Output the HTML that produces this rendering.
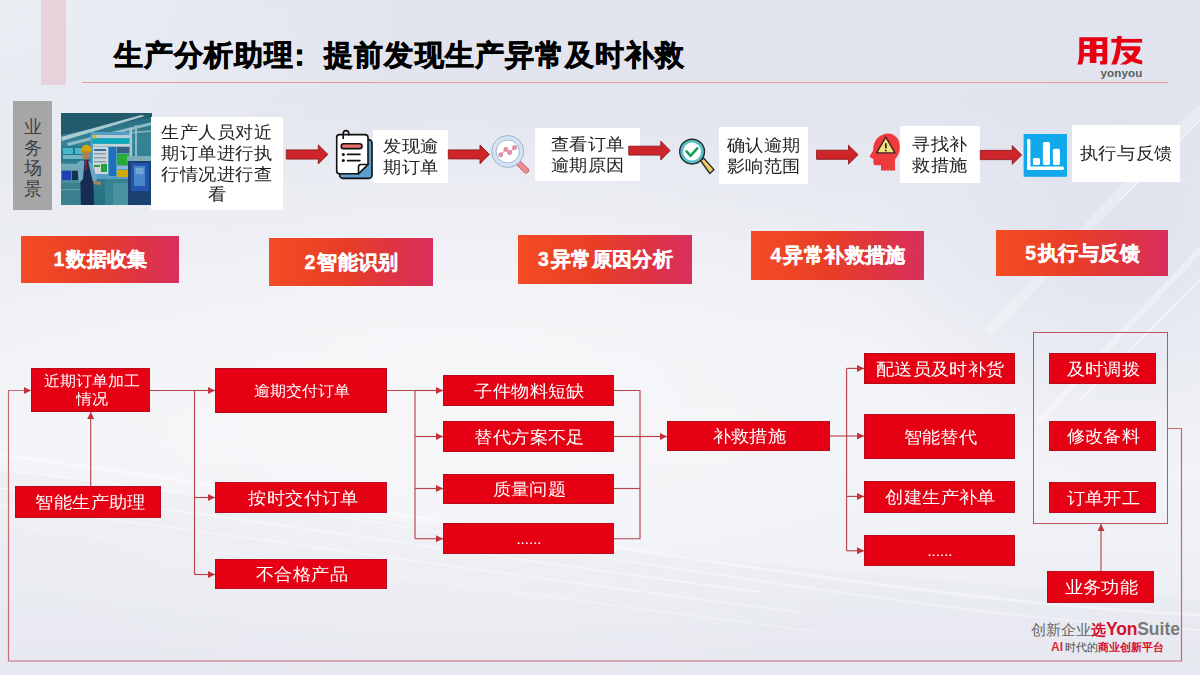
<!DOCTYPE html>
<html><head><meta charset="utf-8">
<style>
*{margin:0;padding:0;box-sizing:border-box}
html,body{width:1200px;height:675px;overflow:hidden}
body{font-family:"Liberation Sans",sans-serif;position:relative;background:#e6e8f0}
.a{position:absolute}
#bg{position:absolute;left:0;top:0;width:1200px;height:675px}
.title{position:absolute;left:114px;top:35px;letter-spacing:1.05px;font-size:28.5px;font-weight:bold;color:#000;white-space:nowrap;line-height:40px;-webkit-text-stroke:0.7px #000}
.wb{position:absolute;background:#fff;color:#222;font-size:17.3px;line-height:20.8px;text-align:center;display:flex;align-items:center;justify-content:center;letter-spacing:0.3px;padding-left:0.3px}
.step{position:absolute;background:linear-gradient(90deg,#f44c24 0%,#e83e27 45%,#dd3348 80%,#d82f5e 100%);color:#fff;font-weight:bold;font-size:19.5px;-webkit-text-stroke:0.35px #fff;letter-spacing:0.4px;padding-left:1.4px;display:flex;align-items:center;justify-content:center;white-space:nowrap}
.rb{position:absolute;background:#e60014;border:1px solid #b80a1c;color:#fff;font-size:17.3px;display:flex;align-items:center;justify-content:center;text-align:center;white-space:nowrap;line-height:18px;letter-spacing:0.2px;padding-left:2.2px}
.t{display:inline-block;transform:scaleX(1.07)}
.sm{font-size:15px;letter-spacing:0px;padding-left:2px}
</style></head><body>
<svg id="bg" width="1200" height="675" viewBox="0 0 1200 675">
<defs>
<linearGradient id="bgv" x1="0" y1="0" x2="0" y2="1">
<stop offset="0" stop-color="#e1e4ee"/>
<stop offset="0.15" stop-color="#e2e5ee"/>
<stop offset="0.33" stop-color="#e9ebf2"/>
<stop offset="0.5" stop-color="#f1f2f6"/>
<stop offset="0.66" stop-color="#f3f4f7"/>
<stop offset="0.85" stop-color="#eef0f5"/>
<stop offset="1" stop-color="#e8eaf1"/>
</linearGradient>
<radialGradient id="glow" cx="0.38" cy="0.6" r="0.45">
<stop offset="0" stop-color="#f8f8fa" stop-opacity="0.8"/>
<stop offset="1" stop-color="#f8f8fa" stop-opacity="0"/>
</radialGradient>
<radialGradient id="tl" cx="0" cy="0" r="1" gradientUnits="userSpaceOnUse" gradientTransform="translate(0,0) scale(420,300)">
<stop offset="0" stop-color="#ffffff" stop-opacity="0.35"/>
<stop offset="1" stop-color="#ffffff" stop-opacity="0"/>
</radialGradient>
<radialGradient id="rb" cx="0" cy="0" r="1" gradientUnits="userSpaceOnUse" gradientTransform="translate(1120,260) scale(260,220)">
<stop offset="0" stop-color="#d6dbeb" stop-opacity="0.55"/>
<stop offset="1" stop-color="#d6dbeb" stop-opacity="0"/>
</radialGradient>
</defs>
<rect width="1200" height="675" fill="url(#bgv)"/>
<rect width="1200" height="675" fill="url(#glow)"/>
<rect width="1200" height="675" fill="url(#tl)"/>
<rect width="1200" height="675" fill="url(#rb)"/>
<path d="M0,470 C250,500 600,560 1200,600 V675 H0 z" fill="#e0e3ed" opacity="0.2"/>
<g fill="none" stroke="#ffffff" stroke-linecap="round">
<path d="M0,455 C200,480 420,520 700,560 S1100,610 1200,615" stroke-width="3" opacity="0.4"/>
<path d="M0,470 C220,495 450,535 720,575 S1100,625 1200,630" stroke-width="2" opacity="0.35"/>
<path d="M0,488 C230,515 470,555 760,592" stroke-width="1.5" opacity="0.45"/>
<path d="M0,505 C240,535 500,575 800,612" stroke-width="1.5" opacity="0.4"/>
<path d="M0,525 C260,555 520,595 820,632" stroke-width="1.2" opacity="0.35"/>
<path d="M1040,420 L1200,250" stroke-width="6" opacity="0.35"/>
<path d="M1080,400 L1200,280" stroke-width="3" opacity="0.4"/>
<path d="M990,330 L1200,110" stroke-width="10" opacity="0.25"/>
<path d="M1120,200 L1200,120" stroke-width="2" opacity="0.5"/>
</g>
</svg>

<!-- header -->
<div class="a" style="left:41px;top:0;width:25px;height:85px;background:#e8ced8;opacity:0.9"></div>
<div class="title">生产分析助理<span style="position:relative;left:-9px">：</span>提前发现生产异常及时补救</div>
<div class="a" style="left:82px;top:82px;width:1086px;height:1px;background:#e89a9a"></div>
<svg class="a" style="left:0;top:0" width="1200" height="90" viewBox="0 0 1200 90">
<g fill="#e60012">
<path d="M1079.3,37.3 H1107.3 V62.4 Q1107.3,64.6 1105,64.6 H1100.1 V61 H1102.4 V56.4 H1096.4 V63.1 H1089.8 V56.4 H1083.9 Q1083.7,61.5 1082,64.6 H1077.3 Q1079.3,60 1079.3,52 z M1083.9,41.3 V45 H1089.8 V41.3 z M1096.4,41.3 V45 H1102.4 V41.3 z M1083.9,49 V53.1 H1089.8 V49 z M1096.4,49 V53.1 H1102.4 V49 z" fill-rule="evenodd"/>
<rect x="1111.3" y="38.9" width="30.8" height="3.7"/>
<path d="M1117.2,36 H1121.8 Q1121,55 1116.5,64.6 H1111.2 Q1116.5,54 1117.2,36 z"/>
<path d="M1120.9,46.3 H1139.3 Q1141,46.6 1140.3,50 Q1136.5,59.5 1126.2,64.6 H1119.8 Q1131,58.6 1134.2,50.6 H1120.9 z"/>
<path d="M1122.6,53.8 L1126.6,51.4 Q1132.5,58.8 1142.2,60.4 V64.4 Q1129.5,63.2 1122.6,53.8 z"/>
</g>
</svg>
<div class="a" style="left:1100.5px;top:66px;font-size:11.6px;font-weight:bold;color:#5c5c5c;line-height:14px;letter-spacing:0.1px">yonyou</div>

<!-- top row -->
<div class="a" style="left:13px;top:101px;width:39px;height:109px;background:#a6a6a6;color:#404040;font-size:18px;line-height:20.6px;text-align:center;padding-top:16px">业<br>务<br>场<br>景</div>
<svg class="a" style="left:61px;top:113px;filter:brightness(0.86) saturate(1.15)" width="91" height="92" viewBox="0 0 91 92">
<defs>
<linearGradient id="pg" x1="0" y1="0" x2="0" y2="1">
<stop offset="0" stop-color="#34788a"/><stop offset="0.3" stop-color="#4898aa"/><stop offset="0.65" stop-color="#3f8e9e"/><stop offset="1" stop-color="#347f8e"/>
</linearGradient>
</defs>
<rect width="91" height="92" fill="url(#pg)"/>
<path d="M0,0 H91 V4 L0,22 z" fill="#2e6878"/>
<path d="M0,24 L80,2 L84,3 L1,28 z" fill="#d8f6fc" opacity="0.9"/>
<path d="M6,30 L91,9 L91,12 L7,33 z" fill="#c4eef6" opacity="0.8"/>
<path d="M30,22 L91,17 L91,19 L31,24 z" fill="#c8eef6" opacity="0.6"/>
<rect x="1" y="33" width="26" height="15" fill="#38899c"/>
<rect x="2" y="35" width="10" height="6" fill="#5fd0e6"/>
<rect x="14" y="35" width="10" height="6" fill="#66d2e4"/>
<rect x="2" y="42" width="22" height="4" fill="#8fd0de"/>
<rect x="29.5" y="19" width="42" height="47" fill="#6bb6dc"/>
<rect x="31.5" y="22" width="38" height="3" fill="#d6eef8"/>
<rect x="31.5" y="25.5" width="38" height="5" fill="#1ebfd0"/>
<rect x="32" y="31" width="37" height="2.5" fill="#e8f4fa"/>
<rect x="32" y="34" width="15" height="27" fill="#f4f8fb"/>
<rect x="33" y="36" width="12" height="2" fill="#4a80b8"/>
<rect x="33" y="40" width="12" height="1.5" fill="#9fbbd0"/>
<rect x="33" y="44" width="12" height="1.5" fill="#9fbbd0"/>
<rect x="33" y="48" width="12" height="1.5" fill="#9fbbd0"/>
<rect x="40" y="51" width="6" height="8" fill="#3bb450"/>
<rect x="33" y="52" width="6" height="2" fill="#3bb450"/>
<rect x="48" y="34" width="7" height="29" fill="#2f7fcc"/>
<rect x="56" y="34" width="13" height="6" fill="#466c8c"/>
<rect x="56" y="41" width="13" height="11" fill="#3ec24c"/>
<rect x="56" y="53" width="13" height="3" fill="#a6d6ee"/>
<rect x="56" y="57" width="13" height="7" fill="#f4c41e"/>
<rect x="32.5" y="21.5" width="3" height="4" fill="#f2d040"/>
<rect x="68.5" y="15" width="2.5" height="32" fill="#c6e6ef"/>
<rect x="74" y="12" width="2" height="32" fill="#a8d8e4"/>
<rect x="0" y="50" width="21" height="42" fill="#5aa2b0"/>
<rect x="0" y="51" width="21" height="6" fill="#88c4d0"/>
<rect x="1" y="58" width="9" height="9" fill="#2a4cc0"/>
<rect x="11" y="58" width="6" height="9" fill="#203a50"/>
<rect x="0" y="70" width="21" height="22" fill="#4c93a2"/>
<rect x="0" y="76" width="21" height="1.2" fill="#78b6c2"/>
<rect x="44" y="66" width="26" height="26" fill="#4a96a6"/>
<rect x="52" y="70" width="18" height="22" fill="#5ea9b6"/>
<rect x="67" y="43" width="24" height="49" fill="#244a7c"/>
<rect x="66" y="43" width="25" height="5" fill="#94c6d4"/>
<rect x="70" y="50" width="18" height="28" fill="#2f62be"/>
<rect x="73" y="53" width="11" height="20" fill="#5c9ce0"/>
<rect x="74.5" y="55" width="8" height="6" fill="#8cc0ee"/>
<path d="M19,58 Q19,47 25,46 Q31,47 32,57 L33,92 H20 z" fill="#1d3458"/>
<path d="M16,50 Q21,46 23.5,48 L22,66 L18,70 z" fill="#86c0e0"/>
<path d="M27,48 Q31,49 33,55 L36,67 L32,69 z" fill="#86c0e0"/>
<rect x="24.3" y="47" width="1.4" height="10" fill="#b03040"/>
<rect x="21.5" y="37" width="7.5" height="9.5" rx="3" fill="#c4956e"/>
<path d="M20.2,38.3 Q20.5,31.8 25.3,31.8 Q30.2,31.8 30.5,38.3 z" fill="#f2c01e"/>
<rect x="19.6" y="37.8" width="11.5" height="1.5" fill="#dca812"/>
<path d="M33,68 L40,69 L39.5,72 L32.5,71 z" fill="#c4956e"/>
</svg>
<div class="wb" style="left:151px;top:117px;width:132px;height:93px"><span class="t">生产人员对近<br>期订单进行执<br>行情况进行查<br>看</span></div>
<div class="wb" style="left:373px;top:130px;width:75px;height:53px"><span class="t">发现逾<br>期订单</span></div>
<div class="wb" style="left:535px;top:128px;width:105px;height:53px"><span class="t">查看订单<br>逾期原因</span></div>
<div class="wb" style="left:719px;top:127px;width:89px;height:57px"><span class="t">确认逾期<br>影响范围</span></div>
<div class="wb" style="left:900px;top:126px;width:80px;height:57px"><span class="t">寻找补<br>救措施</span></div>
<div class="wb" style="left:1072px;top:125px;width:108px;height:57px"><span class="t">执行与反馈</span></div>

<!-- steps -->
<div class="step" style="left:21px;top:236px;width:158px;height:47px"><span style="margin-right:1.5px">1</span>数据收集</div>
<div class="step" style="left:269px;top:238px;width:164px;height:48px"><span style="margin-right:1.5px">2</span>智能识别</div>
<div class="step" style="left:518px;top:235px;width:174px;height:49px"><span style="margin-right:1.5px">3</span>异常原因分析</div>
<div class="step" style="left:751px;top:231px;width:173px;height:49px"><span style="margin-right:1.5px">4</span>异常补救措施</div>
<div class="step" style="left:996px;top:230px;width:172px;height:46px"><span style="margin-right:1.5px">5</span>执行与反馈</div>

<!-- flowchart boxes -->
<div class="rb sm" style="left:31px;top:368px;width:119px;height:44px"><span class="t">近期订单加工<br>情况</span></div>
<div class="rb" style="left:15px;top:486px;width:146px;height:32px;padding-left:5px"><span class="t">智能生产助理</span></div>
<div class="rb sm" style="left:215px;top:368px;width:172px;height:45px"><span class="t">逾期交付订单</span></div>
<div class="rb" style="left:215px;top:482px;width:172px;height:31px;padding-left:6px"><span class="t">按时交付订单</span></div>
<div class="rb" style="left:215px;top:559px;width:172px;height:30px"><span class="t">不合格产品</span></div>
<div class="rb" style="left:443px;top:375px;width:171px;height:31px"><span class="t">子件物料短缺</span></div>
<div class="rb" style="left:443px;top:421px;width:171px;height:31px"><span class="t">替代方案不足</span></div>
<div class="rb" style="left:443px;top:474px;width:171px;height:30px"><span class="t">质量问题</span></div>
<div class="rb" style="left:443px;top:523px;width:171px;height:31px;font-size:15.5px;letter-spacing:-0.4px;padding-left:0"><span class="t">......</span></div>
<div class="rb" style="left:667px;top:421px;width:163px;height:30px"><span class="t">补救措施</span></div>
<div class="rb" style="left:864px;top:353px;width:151px;height:31px"><span class="t">配送员及时补货</span></div>
<div class="rb" style="left:864px;top:414px;width:151px;height:45px"><span class="t">智能替代</span></div>
<div class="rb" style="left:864px;top:481px;width:151px;height:32px"><span class="t">创建生产补单</span></div>
<div class="rb" style="left:864px;top:535px;width:151px;height:31px;font-size:15.5px;letter-spacing:-0.4px;padding-left:0"><span class="t">......</span></div>
<div class="a" style="left:1033px;top:332px;width:135px;height:192px;border:1.4px solid #bd5660"></div>
<div class="rb" style="left:1049px;top:353px;width:107px;height:31px"><span class="t">及时调拨</span></div>
<div class="rb" style="left:1049px;top:421px;width:107px;height:30px"><span class="t">修改备料</span></div>
<div class="rb" style="left:1049px;top:482px;width:107px;height:31px"><span class="t">订单开工</span></div>
<div class="rb" style="left:1047px;top:571px;width:107px;height:32px"><span class="t">业务功能</span></div>

<!-- connectors -->
<svg class="a" style="left:0;top:0" width="1200" height="675" viewBox="0 0 1200 675">
<defs>
<marker id="ah" viewBox="0 0 10 10" refX="10" refY="5" markerWidth="7" markerHeight="7" markerUnits="userSpaceOnUse" orient="auto">
<path d="M0,0 L10,5 L0,10 z" fill="#c2303a"/>
</marker>
</defs>
<path d="M1168,428.5 H1181.5 V661 H8.5 V390.5 H31" fill="none" stroke="#c36a72" stroke-width="1.2" marker-end="url(#ah)"/>
<g fill="none" stroke="#b6454b" stroke-width="1.15">
<path d="M90.7,486 V412" marker-end="url(#ah)"/>
<path d="M150,390.5 H194.5 V574.5"/>
<path d="M194.5,390.5 H215" marker-end="url(#ah)"/>
<path d="M194.5,497.5 H215" marker-end="url(#ah)"/>
<path d="M194.5,574.5 H215" marker-end="url(#ah)"/>
<path d="M387,390.5 H415 V538.7"/>
<path d="M415,390.5 H443" marker-end="url(#ah)"/>
<path d="M415,436.5 H443" marker-end="url(#ah)"/>
<path d="M415,488.5 H443" marker-end="url(#ah)"/>
<path d="M415,538.7 H443" marker-end="url(#ah)"/>
<path d="M614,390.5 H640 V538.7 H614"/>
<path d="M614,436.5 H640"/>
<path d="M614,488.5 H640"/>
<path d="M640,436.5 H667" marker-end="url(#ah)"/>
<path d="M830,436 H846.6"/>
<path d="M846.6,368.4 V550.8"/>
<path d="M846.6,368.4 H864" marker-end="url(#ah)"/>
<path d="M846.6,436 H864" marker-end="url(#ah)"/>
<path d="M846.6,496.4 H864" marker-end="url(#ah)"/>
<path d="M846.6,550.8 H864" marker-end="url(#ah)"/>
<path d="M1101,571 V524" marker-end="url(#ah)"/>
</g>
</svg>


<!-- icons -->
<svg class="a" style="left:0;top:0" width="1200" height="200" viewBox="0 0 1200 200">
<!-- doc icon -->
<g stroke="#111" stroke-width="1.6" stroke-linejoin="round">
<rect x="339.6" y="139.6" width="32.4" height="38.8" rx="3.5" fill="#5b9dcc"/>
<path d="M339.5,134.6 H365 Q368,134.6 368,137.5 V164.5 L358.5,173.7 H339.5 Q336.7,173.7 336.7,171 V137.5 Q336.7,134.6 339.5,134.6 z" fill="#fff"/>
<path d="M368,164.5 H361 Q358.5,164.5 358.5,167 V173.7 z" fill="#fff"/>
<path d="M343.2,139 V133.6 Q343.2,130.6 346,130.6 Q348.8,130.6 348.8,133.6 V135.5" fill="none"/>
<rect x="341.2" y="143.7" width="20.8" height="4.9" rx="2.45" fill="#e8716c"/>
</g>
<g stroke="#111" stroke-width="1.8" stroke-linecap="round">
<path d="M347.6,154.4 H359.8"/><path d="M347.6,160.6 H359.8"/>
</g>
<circle cx="343.3" cy="154.4" r="1.5" fill="#111"/><circle cx="343.3" cy="160.6" r="1.5" fill="#111"/>

<!-- magnifier 1 -->
<path d="M518.2,162.6 L526,170.4" stroke="#c46b78" stroke-width="6.2" stroke-linecap="round"/>
<path d="M518.2,162.6 L526,170.4" stroke="#f08d94" stroke-width="4.2" stroke-linecap="round"/>
<circle cx="507.7" cy="151.5" r="13.8" fill="#fff" stroke="#d5e4f5" stroke-width="4.3"/>
<circle cx="507.7" cy="151.5" r="16" fill="none" stroke="#98abc6" stroke-width="0.9"/>
<circle cx="507.7" cy="151.5" r="11.6" fill="none" stroke="#98abc6" stroke-width="0.9"/>
<path d="M500.7,154.8 L505.9,149.4 L509.6,152.6 L514.6,147.6" fill="none" stroke="#c86a82" stroke-width="0.9"/>
<g fill="#ef92ab" stroke="#c86a82" stroke-width="0.7">
<circle cx="500.7" cy="154.8" r="2"/><circle cx="505.9" cy="149.4" r="2"/><circle cx="509.6" cy="152.6" r="2"/><circle cx="514.6" cy="147.6" r="2"/>
</g>

<!-- magnifier 2 -->
<path d="M700.5,160.5 L703.8,158.3 L714,169.6 L709.8,173.5 z" fill="#f5c568" stroke="#1c2e33" stroke-width="1.3" stroke-linejoin="round"/>
<circle cx="692.1" cy="151.6" r="12.4" fill="#5cbfc3" stroke="#1c2e33" stroke-width="1.4"/>
<circle cx="692.1" cy="151.6" r="9" fill="#fff"/>
<path d="M686.6,151.4 L690.5,155.8 L697.2,148.3" fill="none" stroke="#15a058" stroke-width="2.6" stroke-linecap="round" stroke-linejoin="round"/>

<!-- head -->
<path d="M881,170.6 V165.2 H875.5 Q873.4,165.2 873.4,163 V159 L870.6,157.4 Q869.3,156.6 870,155.4 L873.2,150.6 Q873,142.5 877.5,138 Q882.5,133.4 888.5,133.5 Q895.5,133.8 898.5,140.5 Q900.8,146.5 899,152.5 Q897.5,156.8 895,159.5 V170.6 z" fill="#ee3a3c"/>
<path d="M885.8,137.2 L895,152.9 H876.6 z" fill="#f4e07a" stroke="#3a2020" stroke-width="1.3" stroke-linejoin="round"/>
<path d="M885.8,143.3 V148.4" stroke="#222" stroke-width="1.7"/>
<circle cx="885.8" cy="150.6" r="0.95" fill="#222"/>

<!-- chart -->
<rect x="1023.6" y="134" width="43.4" height="42.8" fill="#12a8ec"/>
<g fill="#fff">
<rect x="1027" y="138.8" width="3.4" height="31.1" rx="1.7"/>
<rect x="1027" y="166.6" width="37" height="3.3" rx="1.65"/>
<rect x="1032.9" y="157.9" width="7.1" height="7" rx="1.6"/>
<rect x="1042.9" y="142.1" width="7.1" height="22.8" rx="1.6"/>
<rect x="1052.9" y="148.7" width="7" height="16.2" rx="1.6"/>
</g>
</svg>

<!-- top arrows -->
<svg class="a" style="left:0;top:0" width="1200" height="675" viewBox="0 0 1200 675">
<g fill="#cd2529" stroke="#8d181b" stroke-width="0.9" stroke-linejoin="miter">
<path d="M286.3,149.9 H318.3 V144.9 L327.9,154.4 L318.3,163.9 V159.1 H286.3 z"/>
<path d="M448.3,149.9 H480 V145 L489.4,154.4 L480,163.7 V158.9 H448.3 z"/>
<path d="M628.8,146.2 H660.8 V141.2 L670.1,150.6 L660.8,160 V155.1 H628.8 z"/>
<path d="M816.6,150.2 H848.5 V145.2 L858.1,154.7 L848.5,164.1 V159.3 H816.6 z"/>
<path d="M980.3,150.4 H1012.3 V145.6 L1021.6,155 L1012.3,164.3 V159.6 H980.3 z"/>
</g>
</svg>

<!-- footer brand -->
<div class="a" style="left:1031px;top:620px;font-size:14.7px;color:#666;white-space:nowrap;line-height:18px">创新企业<span style="color:#d4102c;font-weight:bold">选<span style="font-size:17.5px;letter-spacing:-0.2px">Yon</span></span><span style="color:#7a7a7a;font-size:17.5px;letter-spacing:0px;font-weight:bold">Suite</span></div>
<div class="a" style="left:1051px;top:640px;font-size:10.7px;color:#444;white-space:nowrap;line-height:14px"><span style="color:#e0283a;font-size:12px;font-weight:bold;margin-right:2px">AI</span>时代的<span style="color:#d4102c;font-weight:bold">商业创新平台</span></div>
</body></html>
